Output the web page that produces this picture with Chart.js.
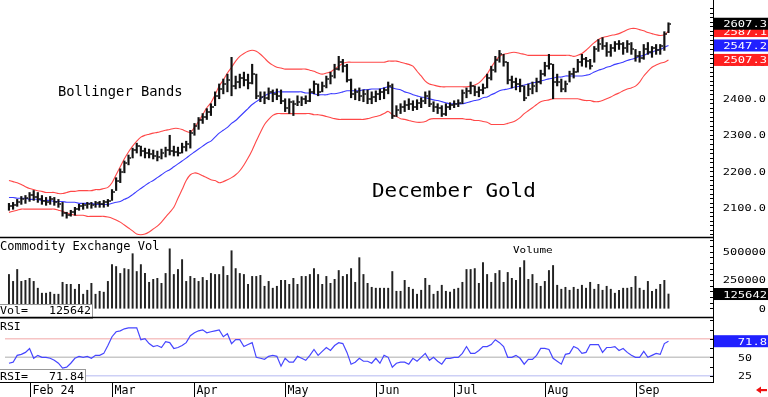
<!DOCTYPE html>
<html><head><meta charset="utf-8">
<script src="https://cdn.jsdelivr.net/npm/chart.js@4.4.1/dist/chart.umd.min.js"></script>
<style>html,body{margin:0;padding:0;background:#fff;overflow:hidden}#wrap{position:relative;width:768px;height:397px}</style>
</head><body><div id="wrap"><canvas id="c" width="768" height="397"></canvas></div>
<script>
// ---- data ----
const highs = [
2110.9,2113.6,2121.8,2130.0,2132.7,2140.9,2146.4,2140.9,2132.7,2127.3,
2130.0,2127.3,2121.8,2113.6,2086.4,2091.8,2100.0,2108.2,2110.9,2113.6,
2113.6,2116.4,2116.4,2119.1,2121.8,2149.1,2181.8,2206.4,2228.2,2244.5,
2263.6,2277.3,2269.1,2263.6,2260.9,2258.2,2255.4,2260.9,2266.3,2299.1,
2269.1,2266.3,2277.3,2282.7,2312.7,2331.8,2348.2,2359.1,2372.7,2386.3,
2419.1,2440.9,2454.5,2468.1,2514.5,2462.7,2468.1,2473.6,2468.1,2495.4,
2468.1,2419.1,2419.1,2430.0,2424.5,2427.2,2424.5,2400.0,2400.0,2394.5,
2408.2,2405.4,2408.2,2427.2,2449.1,2440.9,2446.3,2462.7,2473.6,2495.4,
2517.2,2509.0,2495.4,2454.5,2427.2,2430.0,2424.5,2424.5,2419.1,2421.8,
2427.2,2430.0,2446.3,2440.9,2380.9,2386.3,2394.5,2400.0,2394.5,2397.3,
2402.7,2419.1,2421.8,2391.8,2386.3,2380.9,2386.3,2389.1,2394.5,2397.3,
2424.5,2430.0,2446.3,2435.4,2432.7,2440.9,2468.1,2490.0,2517.2,2533.6,
2522.7,2500.9,2462.7,2457.2,2454.5,2435.4,2440.9,2446.3,2457.2,2479.1,
2500.9,2522.7,2495.4,2468.1,2454.5,2449.1,2476.3,2484.5,2509.0,2522.7,
2514.5,2509.0,2544.5,2563.6,2569.0,2555.4,2550.0,2558.1,2560.9,2555.4,
2560.9,2555.4,2536.3,2530.9,2550.0,2555.4,2544.5,2550.0,2550.0,2585.4,
2610.0];
const lows = [
2091.8,2094.5,2102.7,2108.2,2110.9,2116.4,2119.1,2113.6,2108.2,2105.5,
2108.2,2105.5,2100.0,2075.5,2070.0,2075.5,2078.2,2091.8,2094.5,2097.3,
2097.3,2100.0,2100.0,2100.0,2102.7,2119.1,2146.4,2168.2,2195.4,2217.3,
2236.4,2250.0,2241.8,2236.4,2236.4,2233.6,2228.2,2233.6,2239.1,2244.5,
2241.8,2241.8,2250.0,2255.4,2263.6,2299.1,2315.4,2331.8,2342.7,2353.6,
2380.9,2400.0,2413.6,2419.1,2408.2,2427.2,2430.0,2435.4,2427.2,2440.9,
2400.0,2391.8,2386.3,2397.3,2391.8,2397.3,2386.3,2364.5,2359.1,2353.6,
2380.9,2380.9,2386.3,2391.8,2413.6,2408.2,2419.1,2430.0,2440.9,2457.2,
2479.1,2473.6,2446.3,2402.7,2397.3,2394.5,2391.8,2386.3,2386.3,2391.8,
2397.3,2400.0,2413.6,2345.4,2351.0,2359.1,2364.5,2370.0,2367.3,2370.0,
2375.4,2386.3,2378.2,2364.5,2359.1,2351.0,2353.6,2370.0,2375.4,2378.2,
2386.3,2402.7,2413.6,2408.2,2405.4,2413.6,2430.0,2451.8,2473.6,2500.9,
2490.0,2440.9,2430.0,2424.5,2419.1,2394.5,2408.2,2413.6,2419.1,2440.9,
2462.7,2481.8,2400.0,2435.4,2419.1,2419.1,2446.3,2457.2,2473.6,2490.0,
2487.2,2481.8,2500.9,2530.9,2536.3,2517.2,2517.2,2530.9,2536.3,2522.7,
2528.1,2522.7,2503.6,2500.9,2509.0,2522.7,2514.5,2522.7,2522.7,2533.6,
2582.7];
const closes = [
2102.7,2105.5,2113.6,2121.8,2124.5,2132.7,2127.3,2121.8,2116.4,2113.6,
2121.8,2113.6,2108.2,2083.6,2078.2,2086.4,2094.5,2102.7,2105.5,2108.2,
2105.5,2110.9,2108.2,2113.6,2116.4,2143.6,2173.6,2198.2,2222.7,2236.4,
2258.2,2269.1,2255.4,2250.0,2247.3,2241.8,2239.1,2250.0,2258.2,2255.4,
2252.7,2250.0,2266.3,2274.5,2304.5,2323.6,2340.0,2350.9,2364.5,2378.2,
2408.2,2427.2,2440.9,2451.8,2435.4,2446.3,2457.2,2451.8,2443.6,2468.1,
2408.2,2405.4,2402.7,2419.1,2413.6,2408.2,2394.5,2375.4,2391.8,2386.3,
2391.8,2400.0,2394.5,2419.1,2440.9,2419.1,2435.4,2454.5,2462.7,2481.8,
2500.9,2490.0,2451.8,2413.6,2419.1,2408.2,2413.6,2400.0,2405.4,2413.6,
2419.1,2424.5,2435.4,2353.6,2370.0,2378.2,2383.6,2386.3,2378.2,2389.1,
2394.5,2408.2,2386.3,2378.2,2375.4,2359.1,2378.2,2383.6,2386.3,2389.1,
2416.3,2421.8,2435.4,2419.1,2424.5,2430.0,2457.2,2479.1,2506.3,2522.7,
2500.9,2451.8,2446.3,2440.9,2435.4,2402.7,2427.2,2435.4,2446.3,2468.1,
2490.0,2495.4,2446.3,2446.3,2427.2,2440.9,2468.1,2473.6,2500.9,2509.0,
2503.6,2490.0,2536.3,2550.0,2544.5,2528.1,2539.0,2550.0,2550.0,2539.0,
2550.0,2536.3,2517.2,2511.8,2536.3,2528.1,2539.0,2533.6,2544.5,2580.0,
2607.3];
const bbUpper = [
2174,2171,2168,2163,2157,2152,2149,2146,2144,2141,
2141,2141,2138,2138,2141,2144,2144,2146,2146,2146,
2146,2149,2149,2152,2155,2168,2190,2212,2234,2253,
2269,2283,2294,2299,2302,2305,2307,2310,2313,2315,
2318,2318,2315,2310,2307,2321,2337,2356,2375,2389,
2411,2435,2452,2471,2487,2504,2517,2525,2531,2534,
2531,2523,2512,2501,2493,2487,2485,2482,2482,2482,
2482,2482,2482,2479,2476,2471,2468,2471,2474,2482,
2490,2498,2501,2501,2501,2501,2501,2501,2501,2501,
2501,2501,2504,2504,2504,2501,2498,2495,2490,2476,
2463,2449,2441,2438,2435,2433,2433,2433,2433,2433,
2433,2433,2435,2438,2444,2455,2468,2487,2504,2517,
2523,2525,2528,2528,2525,2523,2520,2520,2520,2520,
2520,2520,2520,2520,2520,2520,2520,2517,2520,2525,
2534,2545,2555,2564,2569,2572,2575,2577,2580,2585,
2591,2594,2594,2591,2588,2583,2580,2577,2575,2577,
2587.1];
const bbMid = [
2127,2127,2125,2125,2125,2122,2122,2122,2119,2119,
2119,2116,2116,2116,2114,2114,2114,2111,2111,2111,
2111,2108,2108,2108,2108,2111,2114,2116,2122,2127,
2135,2144,2152,2160,2168,2174,2182,2190,2198,2204,
2212,2220,2228,2236,2245,2253,2261,2269,2277,2283,
2294,2305,2313,2321,2332,2340,2351,2362,2373,2384,
2392,2400,2408,2414,2416,2419,2419,2419,2419,2419,
2419,2419,2416,2416,2414,2411,2411,2411,2414,2414,
2416,2419,2422,2422,2422,2422,2425,2425,2427,2427,
2427,2430,2433,2430,2427,2425,2419,2416,2411,2408,
2405,2403,2400,2397,2395,2392,2389,2386,2386,2386,
2386,2389,2392,2395,2397,2403,2405,2411,2416,2422,
2425,2427,2430,2433,2435,2438,2441,2444,2446,2449,
2452,2455,2457,2460,2460,2463,2463,2463,2463,2463,
2465,2468,2474,2479,2482,2487,2490,2495,2498,2501,
2506,2509,2512,2517,2520,2525,2528,2534,2536,2542,
2547.2];
const bbLower = [
2086,2089,2092,2095,2095,2095,2095,2095,2095,2095,
2095,2095,2092,2089,2084,2081,2078,2078,2078,2075,
2075,2075,2075,2075,2073,2070,2065,2059,2051,2043,
2035,2026,2024,2026,2032,2040,2048,2059,2073,2086,
2100,2125,2149,2174,2190,2195,2193,2187,2182,2176,
2174,2168,2171,2176,2182,2190,2201,2217,2236,2258,
2283,2307,2329,2343,2354,2359,2359,2359,2359,2359,
2359,2359,2359,2359,2356,2356,2354,2351,2348,2345,
2343,2343,2343,2343,2343,2343,2343,2345,2348,2351,
2354,2359,2365,2356,2351,2345,2343,2340,2337,2335,
2335,2337,2343,2345,2345,2345,2345,2345,2345,2345,
2345,2343,2343,2340,2340,2337,2335,2329,2329,2329,
2329,2332,2335,2340,2348,2359,2367,2375,2384,2392,
2395,2397,2400,2400,2400,2400,2400,2400,2400,2397,
2395,2395,2392,2392,2395,2400,2405,2411,2416,2422,
2427,2430,2435,2446,2463,2476,2487,2493,2498,2501,
2507.3];
const volumes = [
298000,237000,342000,237000,246000,264000,237000,177000,133000,133000,
142000,124000,124000,229000,211000,211000,168000,211000,124000,159000,
220000,124000,150000,142000,237000,385000,368000,307000,350000,342000,
481000,324000,385000,307000,229000,255000,264000,220000,307000,524000,
298000,342000,429000,237000,281000,264000,237000,272000,246000,307000,
298000,298000,368000,290000,507000,350000,307000,298000,211000,281000,
281000,290000,194000,237000,177000,194000,246000,246000,211000,264000,
211000,281000,281000,298000,350000,298000,211000,281000,220000,255000,
333000,281000,298000,350000,229000,446000,298000,220000,185000,177000,
177000,177000,177000,324000,150000,150000,246000,185000,168000,124000,
159000,264000,203000,124000,150000,203000,150000,142000,168000,177000,
229000,342000,342000,350000,220000,403000,298000,229000,307000,333000,
229000,316000,264000,246000,359000,420000,255000,298000,220000,194000,
237000,333000,377000,203000,168000,185000,159000,185000,168000,203000,
177000,229000,168000,211000,159000,194000,168000,133000,159000,177000,
177000,185000,281000,177000,159000,237000,150000,168000,211000,246000,
125642];
const rsi = [
42.0,43.4,52.7,54.0,56.7,62.0,48.7,52.7,50.0,50.0,
48.7,46.0,42.0,35.4,36.7,42.0,48.7,51.3,50.0,51.3,
48.7,52.7,52.7,55.3,66.0,77.9,84.6,85.9,88.6,89.9,
89.9,89.9,73.9,75.3,68.6,64.6,66.0,63.3,71.3,69.9,
62.0,63.3,66.0,69.9,79.3,83.3,85.9,87.2,83.3,84.6,
85.9,87.2,77.9,81.9,68.6,73.9,73.9,64.6,67.3,69.9,
50.0,48.7,47.3,51.3,52.7,51.3,38.0,48.7,43.4,43.4,
51.3,48.7,46.0,52.7,60.6,52.7,58.0,63.3,59.3,66.0,
69.9,68.6,56.7,40.7,43.4,48.7,44.7,44.7,42.0,48.7,
42.0,52.7,50.0,36.7,42.0,43.4,43.4,40.7,48.7,44.7,
50.0,55.3,46.0,50.0,44.7,40.7,48.7,48.7,50.0,50.0,
55.3,64.6,55.3,55.3,59.3,64.6,64.6,67.3,73.9,69.9,
64.6,50.0,50.0,52.7,48.7,40.7,47.3,47.3,52.7,62.0,
62.0,60.6,48.7,44.7,40.7,54.0,55.3,64.6,62.0,55.3,
56.7,67.3,67.3,67.3,56.7,63.3,63.3,64.6,59.3,62.0,
56.7,52.7,50.0,50.0,58.0,50.0,52.7,55.3,54.0,68.6,
71.84];
const monthLabels = ['Feb 24','Mar','Apr','May','Jun','Jul','Aug','Sep'];
const monthStartIdx = [5,25,45,67,89,108,130,152];
const priceTicks = [2100,2200,2300,2400,2500,2600];
const volTicks = [0,250000,500000];
const rsiTicks = [25,50];
const rsiLevels = [75,50,25];

// ---- rendering ----
const MONO = '"DejaVu Sans Mono","Liberation Mono",monospace';
const idx = closes.map((_, i) => i);
const last = closes.length - 1;

const tickImg = document.createElement('canvas');
tickImg.width = 6; tickImg.height = 2;
(function(){const t = tickImg.getContext('2d'); t.fillStyle = '#111'; t.fillRect(3.6, 0.25, 2.4, 1.5);})();

function fitText(ctx, s, x, base, cap, adv, color, align) {
  const size = cap / 0.73;
  ctx.save();
  ctx.font = size + 'px ' + MONO;
  ctx.fillStyle = color || '#000';
  ctx.textBaseline = 'alphabetic';
  const w = ctx.measureText(s).width;
  const sx = adv ? (adv * s.length) / w : 1;
  const left = align === 'right' ? x - w * sx : x;
  ctx.translate(left, base);
  ctx.scale(sx, 1);
  ctx.fillText(s, 0, 0);
  ctx.restore();
}

const overlay = {
  id: 'overlay',
  beforeDatasetsDraw(chart) {
    const {ctx, chartArea: a, scales} = chart;
    const cols = ['#f6c4c4', '#c8c8c8', '#cdd0f6'];
    rsiLevels.forEach((lv, k) => {
      const y = scales.yr.getPixelForValue(lv);
      ctx.save(); ctx.strokeStyle = cols[k]; ctx.lineWidth = 1.5;
      ctx.beginPath(); ctx.moveTo(a.left, y); ctx.lineTo(a.right, y); ctx.stroke(); ctx.restore();
    });
  },
  afterDraw(chart) {
    const {ctx, chartArea: a, scales} = chart;
    const xs = scales.x, yp = scales.yp, yv = scales.yv, yr = scales.yr;
    const R = a.right;
    ctx.save();
    fitText(ctx, 'Bollinger Bands', 58, 95.5, 10.5, 8.3, '#000');
    fitText(ctx, 'December Gold', 372, 197, 14.5, 12.6, '#000');
    fitText(ctx, 'Commodity Exchange Vol', 0, 250, 9, 7.25, '#000');
    fitText(ctx, 'Volume', 513, 253, 7, 6.6, '#000');
    fitText(ctx, 'RSI', 0, 329.5, 8, 6.9, '#000');
    ctx.fillStyle = '#fff'; ctx.strokeStyle = '#999'; ctx.lineWidth = 1;
    ctx.fillRect(0, 304, 93, 14); ctx.strokeRect(-1, 304.5, 93.5, 14);
    fitText(ctx, 'Vol=   ' + volumes[last], 0, 314, 7.5, 7, '#000');
    ctx.fillStyle = '#fff'; ctx.fillRect(0, 370, 85, 12); ctx.strokeStyle = '#999'; ctx.strokeRect(-1, 369.5, 86.5, 13);
    fitText(ctx, 'RSI=   ' + rsi[last].toFixed(2), 0, 379.5, 7.5, 7, '#000');
    ctx.strokeStyle = '#000'; ctx.lineWidth = 1.5;
    [237.5, 317.5].forEach(y => { ctx.beginPath(); ctx.moveTo(0, y); ctx.lineTo(R + 1, y); ctx.stroke(); });
    ctx.lineWidth = 1;
    ctx.beginPath(); ctx.moveTo(0, a.bottom + 0.5); ctx.lineTo(R + 1, a.bottom + 0.5); ctx.stroke();
    ctx.beginPath(); ctx.moveTo(R + 0.5, 0); ctx.lineTo(R + 0.5, a.bottom + 0.5); ctx.stroke();
    ctx.beginPath();
    for (let v = 2025; v <= 2650; v += 12.5) { const y = Math.round(yp.getPixelForValue(v)) + 0.5; if (y < 236) { ctx.moveTo(R - 3, y); ctx.lineTo(R, y); } }
    for (let v = 0; v <= 600000; v += 50000) { const y = Math.round(yv.getPixelForValue(v)) + 0.5; if (y > 240 && y < 316) { ctx.moveTo(R - 3, y); ctx.lineTo(R, y); } }
    for (let v = 25; v <= 100; v += 12.5) { const y = Math.round(yr.getPixelForValue(v)) + 0.5; if (y > 320 && y < 381) { ctx.moveTo(R - 3, y); ctx.lineTo(R, y); } }
    ctx.stroke();
    priceTicks.forEach(v => fitText(ctx, v.toFixed(1), 766, yp.getPixelForValue(v) + 3.5, 7, 7.2, '#000', 'right'));
    volTicks.forEach(v => fitText(ctx, String(v), 766, yv.getPixelForValue(v) + 3.5, 7, 7.2, '#000', 'right'));
    rsiTicks.forEach(v => fitText(ctx, String(v), 738, yr.getPixelForValue(v) + 3.5, 7, 7, '#000'));
    const box = (y, s, bg) => { ctx.fillStyle = bg; ctx.fillRect(R + 1, y - 6, 768 - R, 12); fitText(ctx, s, 767, y + 3.5, 6.8, 7.3, '#fff', 'right'); };
    box(yp.getPixelForValue(bbUpper[last]), bbUpper[last].toFixed(1), '#ff2020');
    box(yp.getPixelForValue(bbMid[last]), bbMid[last].toFixed(1), '#2020ff');
    box(yp.getPixelForValue(bbLower[last]), bbLower[last].toFixed(1), '#ff2020');
    box(yp.getPixelForValue(closes[last]), closes[last].toFixed(1), '#000');
    box(yv.getPixelForValue(volumes[last]), String(volumes[last]), '#000');
    box(yr.getPixelForValue(rsi[last]), rsi[last].toFixed(1), '#2020ff');
    ctx.strokeStyle = '#000'; ctx.lineWidth = 1;
    monthStartIdx.forEach((mi, k) => {
      const x = Math.round(xs.getPixelForValue(mi)) + 0.5;
      ctx.beginPath(); ctx.moveTo(x, a.bottom); ctx.lineTo(x, 397); ctx.stroke();
      fitText(ctx, monthLabels[k], x + 2, 394, 9, 7, '#000');
    });
    ctx.fillStyle = '#ee1111';
    ctx.beginPath(); ctx.moveTo(756, 390); ctx.lineTo(761, 386.5); ctx.lineTo(761, 393.5); ctx.closePath(); ctx.fill();
    ctx.fillRect(760, 389, 7, 2.2);
    ctx.restore();
  }
};

new Chart(document.getElementById('c'), {
  type: 'bar',
  data: {
    datasets: [
      {type: 'scatter', data: idx.map(i => ({x: i, y: closes[i]})), yAxisID: 'yp', pointStyle: tickImg, pointRadius: 2, order: 0},
      {type: 'bar', data: idx.map(i => ({x: i, y: [lows[i], highs[i]]})), yAxisID: 'yp', backgroundColor: '#111', barThickness: 1.5, grouped: false, order: 1},
      {type: 'line', data: idx.map(i => ({x: i, y: bbUpper[i]})), yAxisID: 'yp', borderColor: '#ff4848', borderWidth: 1.1, pointRadius: 0, tension: 0.3, order: 3},
      {type: 'line', data: idx.map(i => ({x: i, y: bbMid[i]})), yAxisID: 'yp', borderColor: '#3c3cff', borderWidth: 1.1, pointRadius: 0, tension: 0.3, order: 3},
      {type: 'line', data: idx.map(i => ({x: i, y: bbLower[i]})), yAxisID: 'yp', borderColor: '#ff4848', borderWidth: 1.1, pointRadius: 0, tension: 0.3, order: 3},
      {type: 'bar', data: idx.map(i => ({x: i, y: volumes[i]})), yAxisID: 'yv', backgroundColor: '#222', barThickness: 1.3, grouped: false, order: 2},
      {type: 'line', data: idx.map(i => ({x: i, y: rsi[i]})), yAxisID: 'yr', borderColor: '#4646ff', borderWidth: 1.2, pointRadius: 0, order: 2}
    ]
  },
  options: {
    responsive: false, animation: false, devicePixelRatio: 1,
    layout: {padding: {left: 0, top: 0, right: 55, bottom: 15}},
    plugins: {legend: {display: false}, tooltip: {enabled: false}},
    scales: {
      x: {type: 'linear', min: -0.96, max: 170.8, display: false, offset: false},
      yp: {type: 'linear', position: 'right', min: 1617.27, max: 2659.09, display: false},
      yv: {type: 'linear', position: 'right', min: -649570, max: 2672200, display: false},
      yr: {type: 'linear', position: 'right', min: 16.58, max: 527.27, display: false}
    }
  },
  plugins: [overlay]
});
</script></body></html>
